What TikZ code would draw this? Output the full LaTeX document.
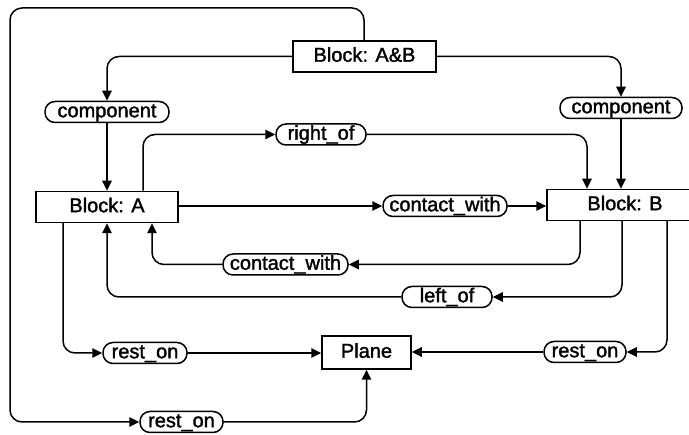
\documentclass[tikz,border=0pt]{standalone}
\usepackage{fontspec}
\setmainfont{Liberation Sans}[BoldFont=Liberation Sans,BoldFeatures={FakeBold=1.6}]
\usetikzlibrary{arrows.meta}
\begin{document}
\begin{tikzpicture}[x=1pt,y=-1pt,
  every node/.style={font=\fontsize{20}{24}\selectfont\bfseries, inner sep=0pt, text height=14.5pt, text depth=4pt},
  box/.style={draw, line width=1.5pt, rectangle, minimum height=31pt},
  rel/.style={draw, line width=1.5pt, rectangle, rounded corners=10pt, minimum height=21pt},
  conn/.style={line width=1.5pt, rounded corners=12pt, -{Triangle[length=10pt,width=9.5pt]}},
]
\useasboundingbox (0,0) rectangle (689,435);
\node[box, minimum width=143pt] (AB) at (364.5,56.5) {Block: A\&B};
\node[rel, minimum width=124pt] (cL) at (107,112) {component};
\node[rel, minimum width=122pt] (cR) at (621,108) {component};
\node[rel, minimum width=90pt] (ro) at (321,134.5) {right\_of};
\node[box, minimum width=142pt] (A) at (107,207) {Block: A};
\node[rel, minimum width=124pt] (cwU) at (445,206) {contact\_with};
\node[box, minimum width=156pt] (B) at (625,205) {Block: B};
\node[rel, minimum width=125pt] (cwL) at (285.5,264.5) {contact\_with};
\node[rel, minimum width=90pt] (lo) at (447,297) {left\_of};
\node[rel, minimum width=84pt] (rL) at (145,353) {rest\_on};
\node[box, minimum width=89pt, minimum height=33pt] (P) at (366.5,352.5) {Plane};
\node[rel, minimum width=82pt] (rR) at (585,352) {rest\_on};
\node[rel, minimum width=83pt] (rB) at (181.5,422) {rest\_on};
\coordinate (t1) at (364,8);
\coordinate (t2) at (10,8);
\coordinate (t3) at (10,422);
\draw[conn] (AB.north -| t1) -- (t1) -- (t2) -- (t3) -- (rB.west);
\draw[conn] (AB.west) -| (cL.north);
\draw[conn] (AB.east) -| (cR.north);
\draw[conn] (cR.south) -- (cR.south |- B.north);
\draw[conn] (cL.south) -- (A.north);
\draw[conn] (143,0 |- A.north) |- (ro.west);
\draw[conn] (ro.east) -| (587,0 |- B.north);
\draw[conn] (cwU.west -| A.east) -- (cwU.west);
\draw[conn] (cwU.east) -- (cwU.east -| B.west);
\draw[conn] (580,0 |- B.south) |- (cwL.east);
\draw[conn] (cwL.west) -| (152,0 |- A.south);
\draw[conn] (622,0 |- B.south) |- (lo.east);
\draw[conn] (lo.west) -| (107,0 |- A.south);
\draw[conn] (667,0 |- B.south) |- (rR.east);
\draw[conn] (rR.west) -- (rR.west -| P.east);
\draw[conn] (63,0 |- A.south) |- (rL.west);
\draw[conn] (rL.east) -- (rL.east -| P.west);
\draw[conn] (rB.east) -| (P.south);
\end{tikzpicture}
\end{document}
